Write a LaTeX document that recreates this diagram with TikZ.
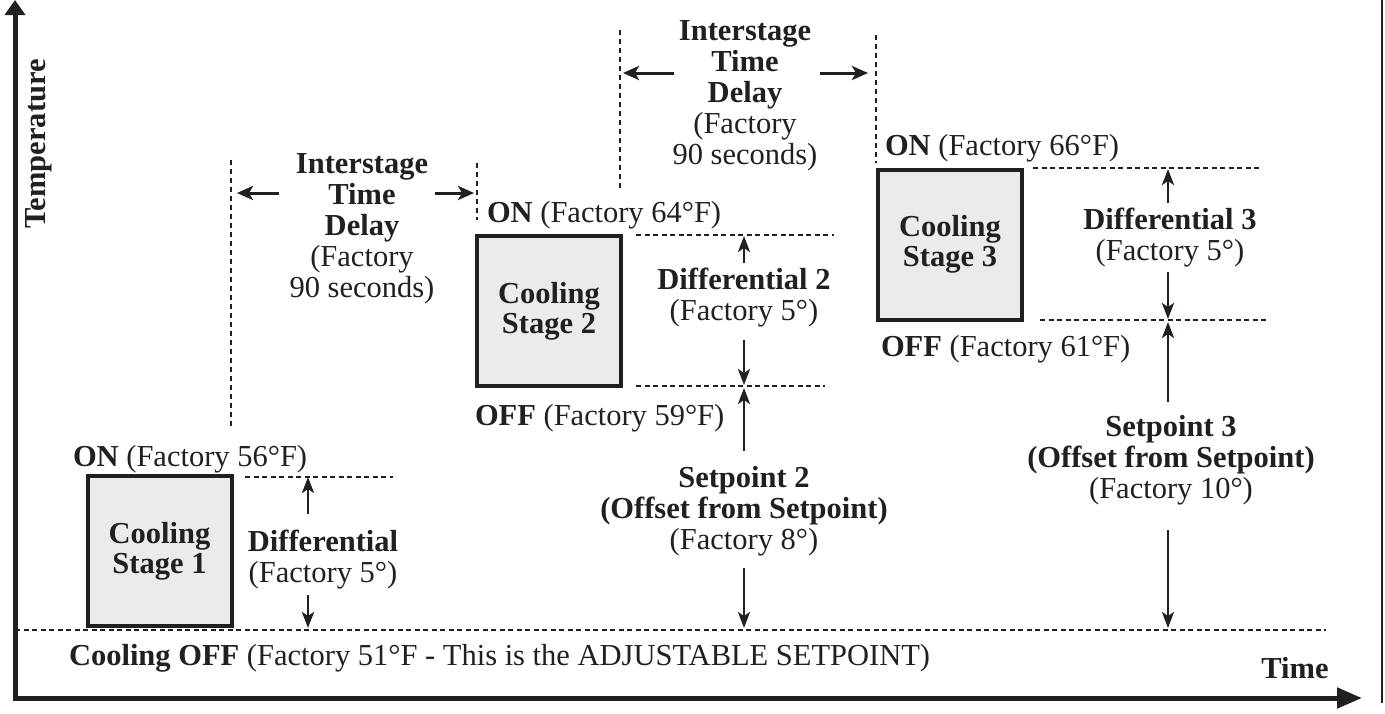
\documentclass[tikz,border=0pt]{standalone}
\usepackage{fontspec}
\setmainfont{Liberation Serif}
\usetikzlibrary{arrows.meta}
\definecolor{ink}{HTML}{231F20}
\definecolor{stagefill}{HTML}{EBEBED}
\begin{document}
\begin{tikzpicture}[x=1pt,y=-1pt,
  every node/.style={text=ink, font=\fontsize{30.5}{31}\selectfont, inner sep=0pt, outer sep=0pt},
  textblock/.style={align=center},
  leftlabel/.style={anchor=base west},
  boldtext/.style={font=\fontsize{30.5}{31}\selectfont\bfseries},
  stagebox/.style={draw=ink, line width=4pt, fill=stagefill, minimum width=144pt,
    minimum height=150pt, align=center, font=\fontsize{30.5}{30}\selectfont\bfseries},
  level/.style={draw=ink, line width=2.8pt, dash pattern=on 5pt off 3.5pt},
  delayline/.style={draw=ink, line width=2.8pt, dash pattern=on 5pt off 4pt},
  dimarrow/.style={draw=ink, line width=2.6pt,
    -{Stealth[length=16pt 0 0,width=12pt 0 0,inset=4pt 0]}},
  gaparrow/.style={draw=ink, line width=3pt,
    -{Stealth[length=16pt 0 0,width=14pt 0 0,inset=4pt 0]}},
  axis/.style={draw=ink, line width=5pt, line join=miter}
]
\useasboundingbox (0,0) rectangle (1385,713);

% ---- axes and frame -------------------------------------------------
\coordinate (origin) at (15,698);
\coordinate (tempTip) at (15,0);
\coordinate (timeTip) at (1362,698);
\draw[axis, {Triangle[length=15pt 0 0,width=20pt 0 0]}-{Triangle[length=25pt 0 0,width=20pt 0 0]}]
  (tempTip) -- (origin) -- (timeTip);
\coordinate (frameTop) at (1382,0);
\coordinate (frameBot) at (1382,703);
\draw[ink, line width=2.7pt] (frameTop) -- (frameBot);

\node[boldtext, rotate=90] (temp) at (39,144) {Temperature};
\node[boldtext] (time) at (1295,668) {Time};

% ---- setpoint level -------------------------------------------------
\coordinate (baseL) at (15,630);
\coordinate (baseR) at (1326,630);
\draw[level] (baseL) -- (baseR);
\node[leftlabel] (cooloff) at (69,665)
  {\textbf{Cooling OFF} (Factory 51°F - This is the ADJUSTABLE SETPOINT)};

% ---- stage 1 --------------------------------------------------------
\node[stagebox] (st1) at (159.5,551) {Cooling\\Stage 1};
\node[leftlabel] (on1) at (73,466) {\textbf{ON} (Factory 56°F)};
\coordinate (on1L) at (245,477);
\coordinate (on1R) at (393,477);
\draw[level] (on1L) -- (on1R);
\node[textblock] (dif1) at (323,560) {\textbf{Differential}\\(Factory 5°)};
\coordinate (dif1upA) at (308,514);
\coordinate (dif1upB) at (308,477);
\coordinate (dif1dnA) at (308,595);
\coordinate (dif1dnB) at (308,628);
\draw[dimarrow] (dif1upA) -- (dif1upB);
\draw[dimarrow] (dif1dnA) -- (dif1dnB);

% ---- interstage delay 1 ---------------------------------------------
\coordinate (gap1aT) at (231,160);
\coordinate (gap1aB) at (231,427);
\coordinate (gap1bT) at (477,163);
\coordinate (gap1bB) at (477,220);
\draw[delayline] (gap1aT) -- (gap1aB);
\draw[delayline] (gap1bT) -- (gap1bB);
\node[textblock] (gap1) at (362,228.5)
  {\textbf{Interstage}\\\textbf{Time}\\\textbf{Delay}\\(Factory\\90 seconds)};
\coordinate (gap1Lt) at (279,193);
\coordinate (gap1Lh) at (237,193);
\coordinate (gap1Rt) at (435,193);
\coordinate (gap1Rh) at (474,193);
\draw[gaparrow] (gap1Lt) -- (gap1Lh);
\draw[gaparrow] (gap1Rt) -- (gap1Rh);

% ---- stage 2 --------------------------------------------------------
\node[stagebox] (st2) at (549,311) {Cooling\\Stage 2};
\node[leftlabel] (on2) at (487,222) {\textbf{ON} (Factory 64°F)};
\node[leftlabel] (off2) at (475,425) {\textbf{OFF} (Factory 59°F)};
\coordinate (on2L) at (636,235);
\coordinate (on2R) at (834,235);
\coordinate (off2L) at (636,386);
\coordinate (off2R) at (825,386);
\draw[level] (on2L) -- (on2R);
\draw[level] (off2L) -- (off2R);
\node[textblock] (dif2) at (744,297.5) {\textbf{Differential 2}\\(Factory 5°)};
\coordinate (dif2upA) at (744,263);
\coordinate (dif2upB) at (744,236);
\coordinate (dif2dnA) at (744,340);
\coordinate (dif2dnB) at (744,385);
\draw[dimarrow] (dif2upA) -- (dif2upB);
\draw[dimarrow] (dif2dnA) -- (dif2dnB);
\node[textblock] (sp2) at (744,511.5)
  {\textbf{Setpoint 2}\\\textbf{(Offset from Setpoint)}\\(Factory 8°)};
\coordinate (sp2upA) at (744,451);
\coordinate (sp2upB) at (744,388);
\coordinate (sp2dnA) at (744,568);
\coordinate (sp2dnB) at (744,628);
\draw[dimarrow] (sp2upA) -- (sp2upB);
\draw[dimarrow] (sp2dnA) -- (sp2dnB);

% ---- interstage delay 2 ---------------------------------------------
\coordinate (gap2aT) at (620,30);
\coordinate (gap2aB) at (620,188);
\coordinate (gap2bT) at (876,35);
\coordinate (gap2bB) at (876,163);
\draw[delayline] (gap2aT) -- (gap2aB);
\draw[delayline] (gap2bT) -- (gap2bB);
\node[textblock] (gap2) at (745,96)
  {\textbf{Interstage}\\\textbf{Time}\\\textbf{Delay}\\(Factory\\90 seconds)};
\coordinate (gap2Lt) at (674,73);
\coordinate (gap2Lh) at (623,73);
\coordinate (gap2Rt) at (820,73);
\coordinate (gap2Rh) at (868,73);
\draw[gaparrow] (gap2Lt) -- (gap2Lh);
\draw[gaparrow] (gap2Rt) -- (gap2Rh);

% ---- stage 3 --------------------------------------------------------
\node[stagebox] (st3) at (950,244.5) {Cooling\\Stage 3};
\node[leftlabel] (on3) at (885,155) {\textbf{ON} (Factory 66°F)};
\node[leftlabel] (off3) at (881,356) {\textbf{OFF} (Factory 61°F)};
\coordinate (on3L) at (1033,168);
\coordinate (on3R) at (1262,168);
\coordinate (off3L) at (1040,320);
\coordinate (off3R) at (1267,320);
\draw[level] (on3L) -- (on3R);
\draw[level] (off3L) -- (off3R);
\node[textblock] (dif3) at (1170,237.5) {\textbf{Differential 3}\\(Factory 5°)};
\coordinate (dif3upA) at (1168,203);
\coordinate (dif3upB) at (1168,169);
\coordinate (dif3dnA) at (1168,272);
\coordinate (dif3dnB) at (1168,319);
\draw[dimarrow] (dif3upA) -- (dif3upB);
\draw[dimarrow] (dif3dnA) -- (dif3dnB);
\node[textblock] (sp3) at (1171,460)
  {\textbf{Setpoint 3}\\\textbf{(Offset from Setpoint)}\\(Factory 10°)};
\coordinate (sp3upA) at (1168,402);
\coordinate (sp3upB) at (1168,322);
\coordinate (sp3dnA) at (1168,530);
\coordinate (sp3dnB) at (1168,628);
\draw[dimarrow] (sp3upA) -- (sp3upB);
\draw[dimarrow] (sp3dnA) -- (sp3dnB);
\end{tikzpicture}
\end{document}
